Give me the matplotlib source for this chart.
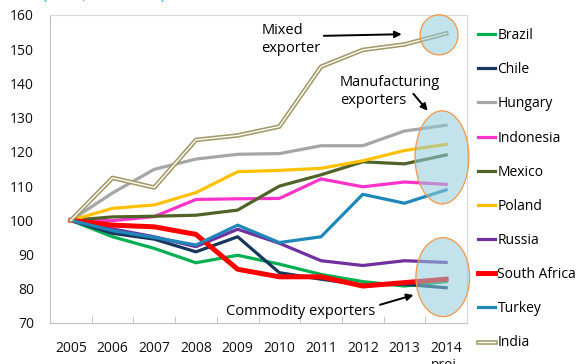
import matplotlib
matplotlib.use("Agg")
import matplotlib.pyplot as plt
from matplotlib.patches import Ellipse
import matplotlib.patheffects as pe

plt.rcParams['font.family'] = ['Open Sans', 'DejaVu Sans']

years = [2005, 2006, 2007, 2008, 2009, 2010, 2011, 2012, 2013, 2014]
year_labels = ["2005", "2006", "2007", "2008", "2009", "2010", "2011", "2012", "2013", "2014\nproj."]

brazil = [100, 95.2, 91.8, 87.6, 89.8, 87.2, 84.2, 82.1, 80.8, 82.1]
chile = [100, 96.2, 94.5, 90.8, 95.2, 84.7, 82.8, 81.1, 81.3, 80.3]
hungary = [100, 108.0, 114.9, 117.9, 119.3, 119.5, 121.8, 121.8, 126.1, 127.8]
indonesia = [100, 99.9, 101.1, 106.1, 106.3, 106.4, 112.1, 109.8, 111.2, 110.5]
mexico = [100, 101.0, 101.2, 101.5, 103.0, 110.0, 113.3, 117.1, 116.5, 119.1]
poland = [100, 103.5, 104.5, 108.1, 114.2, 114.6, 115.2, 117.4, 120.4, 122.2]
russia = [100, 97.5, 95.2, 92.3, 97.4, 93.3, 88.2, 86.8, 88.2, 87.7]
south_africa = [100, 98.6, 98.1, 95.9, 85.7, 83.5, 83.5, 80.8, 81.8, 82.8]
turkey = [100, 97.0, 95.0, 92.8, 98.6, 93.5, 95.2, 107.6, 105.0, 108.9]
india = [100, 112.4, 109.6, 123.5, 124.8, 127.4, 144.9, 149.8, 151.4, 154.6]

names = ["Brazil", "Chile", "Hungary", "Indonesia", "Mexico", "Poland",
         "Russia", "South Africa", "Turkey", "India"]
series = [brazil, chile, hungary, indonesia, mexico, poland, russia,
          south_africa, turkey, india]
colors = ["#00B050", "#17375E", "#A6A6A6", "#FF33CC", "#4F6228", "#FFC000",
          "#7030A0", "#FF0000", "#1F88B8", "#FFFFFF"]
widths = [2.3, 2.3, 2.3, 2.3, 2.3, 2.3, 2.3, 3.6, 2.3, 1.0]

fig = plt.figure(figsize=(5.78, 3.64), dpi=100)
ax = fig.add_axes([50/578, 1-323/364, (467-50)/578, (323-15)/364])

handles = []
for name, vals, c, lw in zip(names, series, colors, widths):
    if name == "India":
        ln, = ax.plot(years, vals, color=c, lw=lw, label=name, zorder=3,
                      path_effects=[pe.Stroke(linewidth=3.3, foreground="#A39A68"), pe.Normal()])
    else:
        ln, = ax.plot(years, vals, color=c, lw=lw, label=name, zorder=3)
    handles.append(ln)

ax.set_xlim(2004.5, 2014.5)
ax.set_ylim(70, 160)
ax.set_yticks(range(70, 161, 10))
ax.set_xticks(years)
ax.set_xticklabels(year_labels)
ax.set_xticks([y + 0.5 for y in years[:-1]], minor=True)
ax.tick_params(axis='x', which='major', length=0, pad=13, labelsize=10, colors='#111111')
ax.tick_params(axis='x', which='minor', direction='in', length=5, color='#BFBFBF')
ax.tick_params(axis='y', length=0, pad=11.5, labelsize=10, colors='#111111')
for s in ['left', 'bottom']:
    ax.spines[s].set_color('#BFBFBF')
for s in ['top', 'right']:
    ax.spines[s].set_color('#D9D9D9')

# highlight ellipses
ell_fc = (0.57, 0.80, 0.86, 0.55)
for (cx, cy, w, h) in [(2013.83, 154.2, 0.91, 11.7),
                       (2013.9, 118.4, 1.29, 27.2),
                       (2013.92, 83.4, 1.29, 23.1)]:
    e = Ellipse((cx, cy), w, h, facecolor=ell_fc, edgecolor='#F79646', lw=0.9,
                zorder=5, clip_on=False)
    ax.add_patch(e)

# annotations
ax.text(2009.57, 152.9, "Mixed\nexporter", fontsize=10.5, va='center', ha='left',
        linespacing=1.25, zorder=6)
ax.annotate("", xy=(2013.0, 154.4), xytext=(2011.0, 153.9),
            arrowprops=dict(arrowstyle='-|>', color='black', lw=1.4, mutation_scale=10))
ax.text(2011.45, 137.7, "Manufacturing\nexporters", fontsize=10.5, va='center', ha='left',
        linespacing=1.25, zorder=6)
ax.annotate("", xy=(2013.6, 131.4), xytext=(2013.17, 137.6),
            arrowprops=dict(arrowstyle='-|>', color='black', lw=1.4, mutation_scale=10))
ax.text(2008.73, 73.5, "Commodity exporters", fontsize=10.5, va='center', ha='left', zorder=6)
ax.annotate("", xy=(2013.28, 78.4), xytext=(2012.35, 75.1),
            arrowprops=dict(arrowstyle='-|>', color='black', lw=1.4, mutation_scale=10))

fig.text(0.075, 1.004, "(index, 2005 = 100)", color='#00B0F0', fontsize=10, va='baseline')

leg = fig.legend(handles=handles, loc='upper left', bbox_to_anchor=(478/578, 1-28/364),
                 frameon=False, fontsize=10, handlelength=1.25, handletextpad=0.15,
                 labelspacing=1.38, borderaxespad=0, borderpad=0)

fig.savefig("out.png", dpi=100)
